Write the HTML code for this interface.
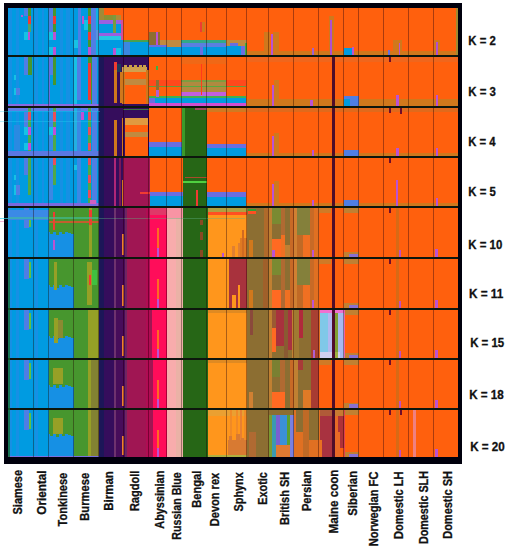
<!DOCTYPE html>
<html><head><meta charset="utf-8"><style>
html,body{margin:0;padding:0;background:#fff;}
svg{display:block;}
.k{font-family:"Liberation Sans",sans-serif;font-weight:bold;font-size:12.4px;fill:#111;stroke:#111;stroke-width:0.3px;}
.n{font-family:"Liberation Sans",sans-serif;font-weight:bold;font-size:12.3px;fill:#111;stroke:#111;stroke-width:0.3px;}
</style></head><body>
<svg width="511" height="550" viewBox="0 0 511 550" shape-rendering="crispEdges">
<defs><filter id="bl" x="-2%" y="-2%" width="104%" height="104%"><feGaussianBlur stdDeviation="0.4"/></filter></defs>
<rect width="511" height="550" fill="#fff"/>
<g filter="url(#bl)">
<rect x="4" y="3" width="458" height="461" fill="#050508"/>
<rect x="8.00" y="7.50" width="90.50" height="47.50" fill="#009be1"/>
<rect x="9.00" y="7.50" width="3.00" height="47.50" fill="#1590e4"/>
<rect x="16.00" y="7.50" width="3.00" height="47.50" fill="#1590e4"/>
<rect x="35.00" y="7.50" width="3.00" height="47.50" fill="#1590e4"/>
<rect x="42.00" y="7.50" width="2.00" height="47.50" fill="#1590e4"/>
<rect x="60.00" y="7.50" width="3.00" height="47.50" fill="#1590e4"/>
<rect x="66.00" y="7.50" width="4.00" height="47.50" fill="#1590e4"/>
<rect x="23.70" y="7.50" width="4.10" height="8.50" fill="#4f7ee4"/>
<rect x="27.80" y="7.50" width="3.20" height="8.50" fill="#46962d"/>
<rect x="27.80" y="16.00" width="3.20" height="8.00" fill="#f03a30"/>
<rect x="27.80" y="24.00" width="3.20" height="8.00" fill="#5aa060"/>
<rect x="23.70" y="32.00" width="3.80" height="8.00" fill="#14c2e4"/>
<rect x="27.50" y="32.00" width="2.80" height="8.00" fill="#bb52d2"/>
<rect x="21.00" y="15.00" width="2.00" height="2.00" fill="#bb52d2"/>
<rect x="48.70" y="7.50" width="3.80" height="24.50" fill="#4f7ee4"/>
<rect x="52.50" y="7.50" width="3.00" height="8.50" fill="#46962d"/>
<rect x="52.50" y="16.00" width="3.00" height="8.00" fill="#f03a30"/>
<rect x="52.50" y="24.00" width="3.00" height="8.00" fill="#46962d"/>
<rect x="52.50" y="32.00" width="3.00" height="8.00" fill="#bb52d2"/>
<rect x="48.70" y="32.00" width="3.80" height="8.00" fill="#14c2e4"/>
<rect x="48.70" y="47.00" width="3.80" height="8.00" fill="#14c2e4"/>
<rect x="52.50" y="47.00" width="3.00" height="8.00" fill="#bb52d2"/>
<rect x="74.30" y="40.00" width="3.40" height="8.00" fill="#14c2e4"/>
<rect x="77.70" y="7.50" width="3.30" height="47.50" fill="#4f7ee4"/>
<rect x="81.80" y="16.00" width="2.20" height="8.00" fill="#bb52d2"/>
<rect x="84.00" y="20.00" width="4.00" height="10.00" fill="#14c2e4"/>
<rect x="88.30" y="7.50" width="2.70" height="47.50" fill="#46962d"/>
<rect x="88.30" y="16.00" width="2.70" height="8.00" fill="#f03a30"/>
<rect x="88.30" y="32.00" width="2.70" height="8.00" fill="#f03a30"/>
<rect x="88.30" y="47.00" width="2.70" height="8.00" fill="#bb52d2"/>
<rect x="91.00" y="7.50" width="5.00" height="47.50" fill="#4f7ee4"/>
<rect x="96.00" y="30.00" width="2.50" height="10.00" fill="#bb52d2"/>
<rect x="96.00" y="7.50" width="2.50" height="47.50" fill="#14c2e4" fill-opacity="0.6"/>
<rect x="98.50" y="7.50" width="24.90" height="47.50" fill="#009be1"/>
<rect x="98.90" y="7.50" width="5.00" height="12.00" fill="#a08a38"/>
<rect x="103.90" y="7.50" width="17.10" height="7.90" fill="#ff6010"/>
<rect x="103.90" y="15.40" width="9.10" height="4.60" fill="#8a9035"/>
<rect x="113.00" y="15.40" width="8.00" height="4.60" fill="#b08a38"/>
<rect x="98.90" y="19.50" width="24.50" height="4.30" fill="#9a60e0"/>
<rect x="113.00" y="15.00" width="2.70" height="25.00" fill="#7a9a40"/>
<rect x="98.90" y="32.50" width="24.50" height="3.40" fill="#9a60e0"/>
<rect x="98.90" y="35.90" width="24.50" height="4.10" fill="#28c8e2"/>
<rect x="113.00" y="48.00" width="3.00" height="7.00" fill="#bb52d2"/>
<rect x="116.00" y="48.00" width="5.00" height="7.00" fill="#14c2e4"/>
<rect x="120.50" y="7.50" width="2.90" height="32.50" fill="#ff6010"/>
<rect x="121.00" y="20.00" width="1.50" height="20.00" fill="#d050a0"/>
<rect x="123.40" y="7.50" width="25.40" height="32.50" fill="#ff6010"/>
<rect x="123.40" y="40.00" width="25.40" height="2.00" fill="#48a050"/>
<rect x="123.40" y="42.00" width="25.40" height="13.00" fill="#009be1"/>
<rect x="123.40" y="42.00" width="6.60" height="13.00" fill="#3a88e0"/>
<rect x="148.80" y="7.50" width="17.80" height="32.10" fill="#ff6010"/>
<rect x="148.80" y="32.00" width="11.20" height="13.00" fill="#8c6e32"/>
<rect x="155.50" y="32.00" width="2.00" height="13.00" fill="#bb52d2"/>
<rect x="160.00" y="39.60" width="6.60" height="5.40" fill="#c08a40"/>
<rect x="148.80" y="45.00" width="17.80" height="2.00" fill="#6a6ee0"/>
<rect x="148.80" y="47.00" width="17.80" height="8.00" fill="#009be1"/>
<rect x="166.60" y="7.50" width="14.70" height="32.50" fill="#ff6010"/>
<rect x="166.60" y="40.00" width="14.70" height="7.00" fill="#c08a40"/>
<rect x="166.60" y="47.00" width="14.70" height="8.00" fill="#009be1"/>
<rect x="181.30" y="7.50" width="44.70" height="32.30" fill="#ff6010"/>
<rect x="181.30" y="39.80" width="44.70" height="3.20" fill="#30a888"/>
<rect x="181.30" y="43.00" width="44.70" height="4.00" fill="#5a80e0"/>
<rect x="181.30" y="47.00" width="44.70" height="8.00" fill="#009be1"/>
<rect x="200.00" y="22.00" width="1.50" height="10.00" fill="#f03a30"/>
<rect x="202.00" y="22.00" width="3.00" height="10.00" fill="#d0781c"/>
<rect x="200.00" y="47.00" width="3.00" height="8.00" fill="#6a6ee0"/>
<rect x="226.00" y="7.50" width="20.50" height="32.30" fill="#ff6010"/>
<rect x="226.00" y="39.80" width="20.50" height="6.20" fill="#c08a40"/>
<rect x="230.00" y="43.00" width="8.00" height="3.00" fill="#6a6ee0"/>
<rect x="226.00" y="46.00" width="15.00" height="9.00" fill="#009be1"/>
<rect x="241.00" y="46.00" width="4.00" height="9.00" fill="#6a6ee0"/>
<rect x="245.00" y="43.00" width="1.50" height="12.00" fill="#40b040"/>
<rect x="246.50" y="7.50" width="211.00" height="47.50" fill="#ff6010"/>
<rect x="246.50" y="50.50" width="211.00" height="4.50" fill="#d0781c"/>
<rect x="265.00" y="32.00" width="4.00" height="23.00" fill="#d0781c"/>
<rect x="264.00" y="32.00" width="6.00" height="23.00" fill="#d0781c"/>
<rect x="270.50" y="34.00" width="2.50" height="21.00" fill="#bb52d2"/>
<rect x="273.00" y="32.00" width="6.00" height="23.00" fill="#d0781c"/>
<rect x="328.80" y="15.70" width="5.10" height="39.30" fill="#d0781c"/>
<rect x="330.00" y="20.00" width="2.00" height="35.00" fill="#b050d0"/>
<rect x="343.90" y="48.00" width="8.10" height="7.00" fill="#009be1"/>
<rect x="352.00" y="47.00" width="2.00" height="8.00" fill="#bb52d2"/>
<rect x="312.00" y="48.00" width="2.00" height="7.00" fill="#a060d0"/>
<rect x="392.50" y="40.00" width="9.40" height="15.00" fill="#d0781c"/>
<rect x="398.60" y="43.00" width="1.70" height="12.00" fill="#bb52d2"/>
<rect x="388.00" y="50.00" width="2.00" height="5.00" fill="#6a6ee0"/>
<rect x="433.90" y="40.00" width="5.60" height="15.00" fill="#d0781c"/>
<rect x="436.00" y="42.00" width="2.00" height="13.00" fill="#b050d0"/>
<rect x="455.50" y="7.50" width="2.00" height="47.50" fill="#a08a30"/>
<rect x="8.00" y="57.00" width="90.50" height="48.60" fill="#009be1"/>
<rect x="9.00" y="57.00" width="3.00" height="48.60" fill="#1590e4"/>
<rect x="16.00" y="57.00" width="3.00" height="48.60" fill="#1590e4"/>
<rect x="35.00" y="57.00" width="3.00" height="48.60" fill="#1590e4"/>
<rect x="42.00" y="57.00" width="2.00" height="48.60" fill="#1590e4"/>
<rect x="60.00" y="57.00" width="3.00" height="48.60" fill="#1590e4"/>
<rect x="66.00" y="57.00" width="4.00" height="48.60" fill="#1590e4"/>
<rect x="24.00" y="57.00" width="4.30" height="18.00" fill="#4f7ee4"/>
<rect x="28.30" y="57.00" width="3.20" height="18.00" fill="#46962d"/>
<rect x="14.00" y="75.00" width="2.00" height="5.00" fill="#14c2e4"/>
<rect x="14.00" y="88.00" width="6.00" height="7.00" fill="#4f7ee4"/>
<rect x="14.00" y="88.00" width="2.00" height="7.00" fill="#14c2e4"/>
<rect x="48.60" y="57.00" width="1.40" height="48.60" fill="#6a6ee0"/>
<rect x="50.00" y="57.00" width="3.40" height="18.00" fill="#4f7ee4"/>
<rect x="53.40" y="57.00" width="2.60" height="28.00" fill="#46962d"/>
<rect x="74.00" y="57.00" width="3.00" height="48.60" fill="#14c2e4"/>
<rect x="77.00" y="57.00" width="4.00" height="43.00" fill="#4f7ee4"/>
<rect x="88.00" y="63.00" width="3.00" height="37.00" fill="#f03a30"/>
<rect x="88.00" y="57.00" width="3.00" height="6.00" fill="#46962d"/>
<rect x="91.00" y="57.00" width="1.00" height="48.60" fill="#46962d"/>
<rect x="92.00" y="57.00" width="5.00" height="48.60" fill="#4f7ee4"/>
<rect x="8.00" y="103.50" width="90.50" height="2.10" fill="#8a6ae0"/>
<rect x="98.50" y="57.00" width="5.30" height="48.60" fill="#1a1958"/>
<rect x="103.80" y="57.00" width="19.60" height="48.60" fill="#340a5c"/>
<rect x="113.80" y="62.00" width="2.90" height="8.00" fill="#f03a30"/>
<rect x="113.80" y="70.00" width="2.90" height="33.00" fill="#d0781c"/>
<rect x="120.00" y="72.00" width="2.50" height="31.00" fill="#d0781c"/>
<rect x="116.70" y="64.00" width="4.30" height="8.00" fill="#1a3a5a"/>
<rect x="123.40" y="57.00" width="25.40" height="48.60" fill="#340a5c"/>
<rect x="122.00" y="67.00" width="24.50" height="5.00" fill="#d0a050"/>
<rect x="122.00" y="72.00" width="24.50" height="7.00" fill="#ff6010"/>
<rect x="122.00" y="79.00" width="24.50" height="6.00" fill="#c08a40"/>
<rect x="122.00" y="85.00" width="24.50" height="18.50" fill="#ff6010"/>
<rect x="124.00" y="65.00" width="2.50" height="2.50" fill="#c8a048"/>
<rect x="129.00" y="65.00" width="2.50" height="2.50" fill="#c8a048"/>
<rect x="134.00" y="65.00" width="2.50" height="2.50" fill="#c8a048"/>
<rect x="139.00" y="65.00" width="2.50" height="2.50" fill="#c8a048"/>
<rect x="143.00" y="65.00" width="2.50" height="2.50" fill="#c8a048"/>
<rect x="122.00" y="72.00" width="2.50" height="31.50" fill="#d0781c"/>
<rect x="146.00" y="70.00" width="2.80" height="33.50" fill="#d0781c"/>
<rect x="148.80" y="57.00" width="97.00" height="22.80" fill="#ff6010"/>
<rect x="148.80" y="79.80" width="32.50" height="7.20" fill="#ff4a1a"/>
<rect x="148.80" y="87.00" width="32.50" height="9.00" fill="#ff6010"/>
<rect x="226.30" y="79.80" width="19.50" height="7.20" fill="#ff4a1a"/>
<rect x="226.30" y="87.00" width="19.50" height="9.00" fill="#ff6010"/>
<rect x="181.30" y="79.80" width="45.00" height="12.20" fill="#b08a40"/>
<rect x="181.30" y="92.00" width="45.00" height="4.00" fill="#c060e0"/>
<rect x="148.80" y="86.30" width="97.00" height="1.00" fill="#40b040" fill-opacity="0.8"/>
<rect x="181.30" y="80.00" width="45.00" height="2.00" fill="#70a040" fill-opacity="0.8"/>
<rect x="148.80" y="96.00" width="97.00" height="1.50" fill="#40b050"/>
<rect x="148.80" y="97.50" width="97.00" height="5.70" fill="#009be1"/>
<rect x="148.80" y="97.50" width="6.20" height="5.70" fill="#6a6ee0"/>
<rect x="148.80" y="103.20" width="97.00" height="2.40" fill="#d050d0"/>
<rect x="156.30" y="80.00" width="3.10" height="17.00" fill="#8c6e32"/>
<rect x="156.30" y="90.00" width="3.10" height="7.00" fill="#b060d0"/>
<rect x="156.00" y="66.00" width="2.00" height="4.00" fill="#40b040"/>
<rect x="196.00" y="57.00" width="2.50" height="5.00" fill="#6a0a2a"/>
<rect x="200.60" y="57.00" width="1.40" height="38.00" fill="#ff3a1a"/>
<rect x="181.30" y="57.00" width="45.00" height="7.00" fill="#f06818"/>
<rect x="245.80" y="57.00" width="211.70" height="48.60" fill="#ff6010"/>
<rect x="245.80" y="57.00" width="211.70" height="5.00" fill="#f0661a"/>
<rect x="245.80" y="98.50" width="211.70" height="7.10" fill="#d0781c"/>
<rect x="271.50" y="84.50" width="2.30" height="21.10" fill="#bb52d2"/>
<rect x="273.80" y="80.00" width="5.20" height="25.60" fill="#d0781c"/>
<rect x="310.00" y="100.00" width="3.00" height="5.60" fill="#bb52d2"/>
<rect x="343.50" y="96.00" width="15.10" height="9.60" fill="#4f7ee4"/>
<rect x="343.50" y="99.00" width="6.50" height="6.60" fill="#009be1"/>
<rect x="396.00" y="95.00" width="3.00" height="10.60" fill="#bb52d2"/>
<rect x="436.00" y="95.00" width="2.00" height="10.60" fill="#bb52d2"/>
<rect x="8.00" y="107.60" width="90.50" height="48.60" fill="#009be1"/>
<rect x="9.00" y="107.60" width="3.00" height="48.60" fill="#1590e4"/>
<rect x="16.00" y="107.60" width="3.00" height="48.60" fill="#1590e4"/>
<rect x="35.00" y="107.60" width="3.00" height="48.60" fill="#1590e4"/>
<rect x="42.00" y="107.60" width="2.00" height="48.60" fill="#1590e4"/>
<rect x="60.00" y="107.60" width="3.00" height="48.60" fill="#1590e4"/>
<rect x="66.00" y="107.60" width="4.00" height="48.60" fill="#1590e4"/>
<rect x="8.00" y="107.60" width="90.50" height="3.40" fill="#5a80e6"/>
<rect x="8.00" y="107.60" width="90.50" height="1.40" fill="#7a70e0" fill-opacity="0.6"/>
<rect x="24.00" y="112.00" width="4.30" height="16.00" fill="#4f7ee4"/>
<rect x="28.30" y="107.60" width="2.50" height="48.60" fill="#50a848"/>
<rect x="28.30" y="112.00" width="2.50" height="8.00" fill="#e8505a"/>
<rect x="28.30" y="127.00" width="2.50" height="8.00" fill="#c050d8"/>
<rect x="24.00" y="127.00" width="4.30" height="8.00" fill="#14c2e4"/>
<rect x="24.00" y="143.00" width="4.30" height="7.00" fill="#14c2e4"/>
<rect x="28.30" y="143.00" width="2.50" height="7.00" fill="#c050d8"/>
<rect x="14.00" y="125.00" width="6.00" height="25.00" fill="#2a8ae2"/>
<rect x="48.70" y="107.60" width="3.80" height="42.40" fill="#3a88e4"/>
<rect x="53.30" y="107.60" width="2.50" height="48.60" fill="#50a848"/>
<rect x="53.30" y="112.00" width="2.50" height="10.00" fill="#e8505a"/>
<rect x="53.30" y="127.00" width="2.50" height="8.00" fill="#c050d8"/>
<rect x="48.70" y="127.00" width="3.80" height="8.00" fill="#14c2e4"/>
<rect x="74.00" y="107.60" width="3.00" height="48.60" fill="#20b0e2"/>
<rect x="77.00" y="107.60" width="4.00" height="48.60" fill="#3a88e4"/>
<rect x="81.00" y="112.00" width="3.00" height="8.00" fill="#c050d8"/>
<rect x="88.30" y="107.60" width="2.50" height="48.60" fill="#50a848"/>
<rect x="88.30" y="112.00" width="2.50" height="8.00" fill="#e8505a"/>
<rect x="88.30" y="127.00" width="2.50" height="8.00" fill="#e8505a"/>
<rect x="88.30" y="143.00" width="2.50" height="7.00" fill="#e8505a"/>
<rect x="92.00" y="107.60" width="5.00" height="48.60" fill="#4f7ee4"/>
<rect x="8.00" y="150.50" width="90.50" height="5.70" fill="#5a78e2"/>
<rect x="98.50" y="107.60" width="5.30" height="48.60" fill="#1a1958"/>
<rect x="103.80" y="107.60" width="19.60" height="48.60" fill="#340a5c"/>
<rect x="113.80" y="120.00" width="3.00" height="36.20" fill="#d0781c"/>
<rect x="122.30" y="118.00" width="1.70" height="38.20" fill="#d0781c"/>
<rect x="123.40" y="107.60" width="25.40" height="48.60" fill="#340a5c"/>
<rect x="125.00" y="117.60" width="23.00" height="7.40" fill="#e09a40"/>
<rect x="125.00" y="125.00" width="23.00" height="31.20" fill="#ff6010"/>
<rect x="125.00" y="132.00" width="23.00" height="5.00" fill="#c08a40"/>
<rect x="123.40" y="108.50" width="83.60" height="1.50" fill="#40a040" fill-opacity="0.7"/>
<rect x="148.80" y="107.60" width="33.20" height="34.40" fill="#ff6010"/>
<rect x="148.80" y="142.00" width="33.20" height="5.00" fill="#6a6ee0"/>
<rect x="148.80" y="147.00" width="33.20" height="9.20" fill="#009be1"/>
<rect x="182.00" y="107.60" width="25.00" height="48.60" fill="#286619"/>
<rect x="182.00" y="107.60" width="3.00" height="48.60" fill="#3a9a2a"/>
<rect x="195.00" y="107.60" width="12.00" height="2.40" fill="#c04070" fill-opacity="0.8"/>
<rect x="207.00" y="107.60" width="39.00" height="35.90" fill="#ff6010"/>
<rect x="207.00" y="107.60" width="39.00" height="4.40" fill="#d07a20"/>
<rect x="207.00" y="143.50" width="39.00" height="4.50" fill="#6a6ee0"/>
<rect x="207.00" y="148.00" width="39.00" height="8.20" fill="#009be1"/>
<rect x="246.00" y="107.60" width="211.50" height="48.60" fill="#ff6010"/>
<rect x="246.00" y="107.60" width="211.50" height="4.40" fill="#e06a1c"/>
<rect x="246.00" y="153.00" width="211.50" height="3.20" fill="#d0781c"/>
<rect x="271.90" y="136.00" width="2.10" height="20.20" fill="#bb52d2"/>
<rect x="274.00" y="133.00" width="5.00" height="23.20" fill="#d0781c"/>
<rect x="312.00" y="150.00" width="2.00" height="6.20" fill="#bb52d2"/>
<rect x="343.50" y="150.00" width="15.10" height="6.20" fill="#4f7ee4"/>
<rect x="396.00" y="148.00" width="3.00" height="8.20" fill="#bb52d2"/>
<rect x="436.00" y="148.00" width="2.00" height="8.20" fill="#bb52d2"/>
<rect x="8.00" y="158.00" width="90.50" height="48.40" fill="#009be1"/>
<rect x="9.00" y="158.00" width="3.00" height="48.40" fill="#1590e4"/>
<rect x="16.00" y="158.00" width="3.00" height="48.40" fill="#1590e4"/>
<rect x="35.00" y="158.00" width="3.00" height="48.40" fill="#1590e4"/>
<rect x="42.00" y="158.00" width="2.00" height="48.40" fill="#1590e4"/>
<rect x="60.00" y="158.00" width="3.00" height="48.40" fill="#1590e4"/>
<rect x="66.00" y="158.00" width="4.00" height="48.40" fill="#1590e4"/>
<rect x="24.00" y="158.00" width="4.30" height="17.00" fill="#4f7ee4"/>
<rect x="28.30" y="158.00" width="2.50" height="37.00" fill="#50a848"/>
<rect x="14.00" y="175.00" width="2.00" height="5.00" fill="#14c2e4"/>
<rect x="14.00" y="185.00" width="2.00" height="10.00" fill="#14c2e4"/>
<rect x="16.00" y="185.00" width="4.00" height="10.00" fill="#4f7ee4"/>
<rect x="48.70" y="158.00" width="3.80" height="42.00" fill="#3a88e4"/>
<rect x="53.30" y="158.00" width="2.50" height="27.00" fill="#50a848"/>
<rect x="53.30" y="158.00" width="2.50" height="7.00" fill="#e8505a"/>
<rect x="74.00" y="165.00" width="3.00" height="5.00" fill="#14c2e4"/>
<rect x="77.00" y="158.00" width="4.00" height="48.40" fill="#3a88e4"/>
<rect x="88.30" y="158.00" width="2.50" height="48.40" fill="#50a848"/>
<rect x="88.30" y="158.00" width="2.50" height="7.00" fill="#e8505a"/>
<rect x="88.30" y="175.00" width="2.50" height="8.00" fill="#e8505a"/>
<rect x="88.30" y="190.00" width="2.50" height="8.00" fill="#e8505a"/>
<rect x="92.00" y="158.00" width="5.00" height="48.40" fill="#4f7ee4"/>
<rect x="8.00" y="203.30" width="90.50" height="3.10" fill="#7a6ae0"/>
<rect x="90.00" y="200.00" width="6.00" height="4.00" fill="#d060c0"/>
<rect x="98.50" y="158.00" width="5.30" height="48.40" fill="#1a1958"/>
<rect x="103.80" y="158.00" width="19.20" height="48.40" fill="#340a5c"/>
<rect x="113.50" y="158.00" width="2.50" height="48.40" fill="#b02878"/>
<rect x="119.00" y="158.00" width="2.00" height="48.40" fill="#7a1858"/>
<rect x="121.50" y="180.00" width="2.00" height="26.40" fill="#d0781c"/>
<rect x="123.00" y="158.00" width="26.50" height="48.40" fill="#a01452"/>
<rect x="140.00" y="192.00" width="9.50" height="2.00" fill="#f03a30"/>
<rect x="149.50" y="158.00" width="33.00" height="34.00" fill="#ff6010"/>
<rect x="149.50" y="192.00" width="33.00" height="4.00" fill="#6a6ee0"/>
<rect x="149.50" y="196.00" width="33.00" height="10.40" fill="#009be1"/>
<rect x="182.50" y="158.00" width="24.50" height="48.40" fill="#286619"/>
<rect x="182.50" y="181.00" width="57.50" height="1.50" fill="#50d040"/>
<rect x="185.00" y="176.50" width="55.00" height="1.00" fill="#e04030" fill-opacity="0.7"/>
<rect x="196.00" y="190.00" width="2.00" height="16.40" fill="#f03a30"/>
<rect x="207.00" y="158.00" width="39.00" height="34.00" fill="#ff6010"/>
<rect x="207.00" y="192.00" width="39.00" height="5.00" fill="#6a6ee0"/>
<rect x="207.00" y="197.00" width="39.00" height="9.40" fill="#009be1"/>
<rect x="246.00" y="158.00" width="211.50" height="48.40" fill="#ff6010"/>
<rect x="246.00" y="203.00" width="211.50" height="3.40" fill="#d0781c"/>
<rect x="271.90" y="184.00" width="2.10" height="22.40" fill="#bb52d2"/>
<rect x="274.00" y="181.00" width="5.00" height="25.40" fill="#d0781c"/>
<rect x="312.00" y="200.00" width="2.00" height="6.40" fill="#bb52d2"/>
<rect x="343.50" y="200.00" width="15.10" height="6.40" fill="#4f7ee4"/>
<rect x="396.00" y="180.00" width="2.00" height="26.40" fill="#bb52d2"/>
<rect x="436.00" y="198.00" width="2.00" height="8.40" fill="#bb52d2"/>
<rect x="8.00" y="208.10" width="41.00" height="48.90" fill="#009be1"/>
<rect x="9.00" y="208.10" width="3.00" height="48.90" fill="#1590e4"/>
<rect x="16.00" y="208.10" width="3.00" height="48.90" fill="#1590e4"/>
<rect x="35.00" y="208.10" width="3.00" height="48.90" fill="#1590e4"/>
<rect x="23.60" y="208.10" width="5.40" height="20.00" fill="#4f7ee4"/>
<rect x="29.00" y="211.10" width="2.00" height="16.00" fill="#60c040"/>
<rect x="49.00" y="208.10" width="24.80" height="48.90" fill="#1590e4"/>
<rect x="49.00" y="208.10" width="24.80" height="23.90" fill="#46962d"/>
<rect x="50.00" y="229.00" width="3.00" height="5.00" fill="#46962d"/>
<rect x="53.00" y="229.00" width="3.00" height="0.00" fill="#1590e4"/>
<rect x="56.00" y="229.00" width="3.00" height="6.00" fill="#46962d"/>
<rect x="59.00" y="229.00" width="3.00" height="0.00" fill="#1590e4"/>
<rect x="62.00" y="229.00" width="3.00" height="5.00" fill="#46962d"/>
<rect x="65.00" y="229.00" width="3.00" height="0.00" fill="#1590e4"/>
<rect x="68.00" y="229.00" width="3.00" height="4.00" fill="#46962d"/>
<rect x="71.00" y="229.00" width="3.00" height="5.00" fill="#46962d"/>
<rect x="73.80" y="208.10" width="25.00" height="48.90" fill="#46962d"/>
<rect x="98.80" y="208.10" width="4.70" height="48.90" fill="#1a1958"/>
<rect x="103.50" y="208.10" width="10.50" height="48.90" fill="#340a5c"/>
<rect x="114.00" y="208.10" width="2.00" height="48.90" fill="#6e326e"/>
<rect x="116.00" y="208.10" width="8.50" height="48.90" fill="#460a5a"/>
<rect x="122.30" y="234.10" width="2.00" height="20.90" fill="#f08030"/>
<rect x="124.50" y="208.10" width="2.50" height="48.90" fill="#6e2860"/>
<rect x="127.00" y="208.10" width="23.00" height="48.90" fill="#a01452"/>
<rect x="146.00" y="208.10" width="4.00" height="48.90" fill="#b00a52"/>
<rect x="150.00" y="208.10" width="17.30" height="48.90" fill="#ff0a5a"/>
<rect x="157.00" y="228.10" width="2.00" height="23.90" fill="#ff6a20"/>
<rect x="157.00" y="248.00" width="2.00" height="9.00" fill="#bb52d2"/>
<rect x="167.30" y="208.10" width="15.20" height="48.90" fill="#f8acac"/>
<rect x="176.00" y="208.10" width="6.50" height="48.90" fill="#eab2a6"/>
<rect x="182.50" y="208.10" width="25.00" height="48.90" fill="#286619"/>
<rect x="207.50" y="208.10" width="39.50" height="48.90" fill="#ff961e"/>
<rect x="247.00" y="208.10" width="22.00" height="48.90" fill="#8c6e32"/>
<rect x="269.00" y="208.10" width="25.00" height="48.90" fill="#d87a22"/>
<rect x="294.00" y="208.10" width="24.60" height="48.90" fill="#d87a22"/>
<rect x="318.60" y="208.10" width="138.90" height="48.90" fill="#ff6010"/>
<rect x="395.50" y="208.10" width="3.50" height="48.90" fill="#d86a18"/>
<rect x="343.50" y="252.00" width="15.10" height="5.00" fill="#c08030"/>
<rect x="349.00" y="253.50" width="9.00" height="3.50" fill="#8a70d0"/>
<rect x="343.50" y="208.10" width="15.10" height="5.00" fill="#c08030"/>
<rect x="399.00" y="250.00" width="2.00" height="7.00" fill="#c050c0"/>
<rect x="435.00" y="249.00" width="3.00" height="8.00" fill="#bb52d2"/>
<rect x="318.60" y="208.10" width="12.40" height="5.00" fill="#d07a28"/>
<rect x="8.00" y="259.10" width="41.00" height="48.90" fill="#009be1"/>
<rect x="9.00" y="259.10" width="3.00" height="48.90" fill="#1590e4"/>
<rect x="16.00" y="259.10" width="3.00" height="48.90" fill="#1590e4"/>
<rect x="35.00" y="259.10" width="3.00" height="48.90" fill="#1590e4"/>
<rect x="23.60" y="259.10" width="5.40" height="20.00" fill="#4f7ee4"/>
<rect x="29.00" y="262.10" width="2.00" height="16.00" fill="#60c040"/>
<rect x="49.00" y="259.10" width="24.80" height="48.90" fill="#1590e4"/>
<rect x="49.00" y="259.10" width="24.80" height="25.90" fill="#46962d"/>
<rect x="50.00" y="282.00" width="3.00" height="5.00" fill="#46962d"/>
<rect x="53.00" y="282.00" width="3.00" height="0.00" fill="#1590e4"/>
<rect x="56.00" y="282.00" width="3.00" height="6.00" fill="#46962d"/>
<rect x="59.00" y="282.00" width="3.00" height="0.00" fill="#1590e4"/>
<rect x="62.00" y="282.00" width="3.00" height="5.00" fill="#46962d"/>
<rect x="65.00" y="282.00" width="3.00" height="0.00" fill="#1590e4"/>
<rect x="68.00" y="282.00" width="3.00" height="4.00" fill="#46962d"/>
<rect x="71.00" y="282.00" width="3.00" height="5.00" fill="#46962d"/>
<rect x="73.80" y="259.10" width="25.00" height="48.90" fill="#46962d"/>
<rect x="98.80" y="259.10" width="4.70" height="48.90" fill="#1a1958"/>
<rect x="103.50" y="259.10" width="10.50" height="48.90" fill="#340a5c"/>
<rect x="114.00" y="259.10" width="2.00" height="48.90" fill="#6e326e"/>
<rect x="116.00" y="259.10" width="8.50" height="48.90" fill="#460a5a"/>
<rect x="122.30" y="285.10" width="2.00" height="20.90" fill="#f08030"/>
<rect x="124.50" y="259.10" width="2.50" height="48.90" fill="#6e2860"/>
<rect x="127.00" y="259.10" width="23.00" height="48.90" fill="#a01452"/>
<rect x="146.00" y="259.10" width="4.00" height="48.90" fill="#b00a52"/>
<rect x="150.00" y="259.10" width="17.30" height="48.90" fill="#ff0a5a"/>
<rect x="157.00" y="279.10" width="2.00" height="23.90" fill="#ff6a20"/>
<rect x="157.00" y="299.00" width="2.00" height="9.00" fill="#bb52d2"/>
<rect x="167.30" y="259.10" width="15.20" height="48.90" fill="#f8acac"/>
<rect x="176.00" y="259.10" width="6.50" height="48.90" fill="#eab2a6"/>
<rect x="182.50" y="259.10" width="25.00" height="48.90" fill="#286619"/>
<rect x="207.50" y="259.10" width="39.50" height="48.90" fill="#ff961e"/>
<rect x="247.00" y="259.10" width="22.00" height="48.90" fill="#8c6e32"/>
<rect x="269.00" y="259.10" width="25.00" height="48.90" fill="#d87a22"/>
<rect x="294.00" y="259.10" width="24.60" height="48.90" fill="#d87a22"/>
<rect x="318.60" y="259.10" width="138.90" height="48.90" fill="#ff6010"/>
<rect x="395.50" y="259.10" width="3.50" height="48.90" fill="#d86a18"/>
<rect x="343.50" y="303.00" width="15.10" height="5.00" fill="#c08030"/>
<rect x="349.00" y="304.50" width="9.00" height="3.50" fill="#8a70d0"/>
<rect x="343.50" y="259.10" width="15.10" height="5.00" fill="#c08030"/>
<rect x="399.00" y="301.00" width="2.00" height="7.00" fill="#c050c0"/>
<rect x="435.00" y="300.00" width="3.00" height="8.00" fill="#bb52d2"/>
<rect x="318.60" y="259.10" width="12.40" height="5.00" fill="#d07a28"/>
<rect x="8.00" y="309.90" width="41.00" height="48.10" fill="#009be1"/>
<rect x="9.00" y="309.90" width="3.00" height="48.10" fill="#1590e4"/>
<rect x="16.00" y="309.90" width="3.00" height="48.10" fill="#1590e4"/>
<rect x="35.00" y="309.90" width="3.00" height="48.10" fill="#1590e4"/>
<rect x="23.60" y="309.90" width="5.40" height="20.00" fill="#4f7ee4"/>
<rect x="29.00" y="312.90" width="2.00" height="16.00" fill="#60c040"/>
<rect x="49.00" y="309.90" width="24.80" height="48.10" fill="#1590e4"/>
<rect x="49.00" y="309.90" width="24.80" height="25.60" fill="#46962d"/>
<rect x="50.00" y="332.50" width="3.00" height="5.00" fill="#46962d"/>
<rect x="53.00" y="332.50" width="3.00" height="0.00" fill="#1590e4"/>
<rect x="56.00" y="332.50" width="3.00" height="6.00" fill="#46962d"/>
<rect x="59.00" y="332.50" width="3.00" height="0.00" fill="#1590e4"/>
<rect x="62.00" y="332.50" width="3.00" height="5.00" fill="#46962d"/>
<rect x="65.00" y="332.50" width="3.00" height="0.00" fill="#1590e4"/>
<rect x="68.00" y="332.50" width="3.00" height="4.00" fill="#46962d"/>
<rect x="71.00" y="332.50" width="3.00" height="5.00" fill="#46962d"/>
<rect x="73.80" y="309.90" width="25.00" height="48.10" fill="#46962d"/>
<rect x="98.80" y="309.90" width="4.70" height="48.10" fill="#1a1958"/>
<rect x="103.50" y="309.90" width="10.50" height="48.10" fill="#340a5c"/>
<rect x="114.00" y="309.90" width="2.00" height="48.10" fill="#6e326e"/>
<rect x="116.00" y="309.90" width="8.50" height="48.10" fill="#460a5a"/>
<rect x="122.30" y="335.90" width="2.00" height="20.10" fill="#f08030"/>
<rect x="124.50" y="309.90" width="2.50" height="48.10" fill="#6e2860"/>
<rect x="127.00" y="309.90" width="23.00" height="48.10" fill="#a01452"/>
<rect x="146.00" y="309.90" width="4.00" height="48.10" fill="#b00a52"/>
<rect x="150.00" y="309.90" width="17.30" height="48.10" fill="#ff0a5a"/>
<rect x="157.00" y="329.90" width="2.00" height="23.10" fill="#ff6a20"/>
<rect x="157.00" y="349.00" width="2.00" height="9.00" fill="#bb52d2"/>
<rect x="167.30" y="309.90" width="15.20" height="48.10" fill="#f8acac"/>
<rect x="176.00" y="309.90" width="6.50" height="48.10" fill="#eab2a6"/>
<rect x="182.50" y="309.90" width="25.00" height="48.10" fill="#286619"/>
<rect x="207.50" y="309.90" width="39.50" height="48.10" fill="#ff961e"/>
<rect x="247.00" y="309.90" width="22.00" height="48.10" fill="#8c6e32"/>
<rect x="269.00" y="309.90" width="25.00" height="48.10" fill="#d87a22"/>
<rect x="294.00" y="309.90" width="24.60" height="48.10" fill="#d87a22"/>
<rect x="318.60" y="309.90" width="138.90" height="48.10" fill="#ff6010"/>
<rect x="395.50" y="309.90" width="3.50" height="48.10" fill="#d86a18"/>
<rect x="343.50" y="353.00" width="15.10" height="5.00" fill="#c08030"/>
<rect x="349.00" y="354.50" width="9.00" height="3.50" fill="#8a70d0"/>
<rect x="343.50" y="309.90" width="15.10" height="5.00" fill="#c08030"/>
<rect x="399.00" y="351.00" width="2.00" height="7.00" fill="#c050c0"/>
<rect x="435.00" y="350.00" width="3.00" height="8.00" fill="#bb52d2"/>
<rect x="8.00" y="359.90" width="41.00" height="48.00" fill="#009be1"/>
<rect x="9.00" y="359.90" width="3.00" height="48.00" fill="#1590e4"/>
<rect x="16.00" y="359.90" width="3.00" height="48.00" fill="#1590e4"/>
<rect x="35.00" y="359.90" width="3.00" height="48.00" fill="#1590e4"/>
<rect x="23.60" y="359.90" width="5.40" height="20.00" fill="#4f7ee4"/>
<rect x="29.00" y="362.90" width="2.00" height="16.00" fill="#60c040"/>
<rect x="49.00" y="359.90" width="24.80" height="48.00" fill="#1590e4"/>
<rect x="49.00" y="359.90" width="24.80" height="24.60" fill="#46962d"/>
<rect x="50.00" y="381.50" width="3.00" height="5.00" fill="#46962d"/>
<rect x="53.00" y="381.50" width="3.00" height="0.00" fill="#1590e4"/>
<rect x="56.00" y="381.50" width="3.00" height="6.00" fill="#46962d"/>
<rect x="59.00" y="381.50" width="3.00" height="0.00" fill="#1590e4"/>
<rect x="62.00" y="381.50" width="3.00" height="5.00" fill="#46962d"/>
<rect x="65.00" y="381.50" width="3.00" height="0.00" fill="#1590e4"/>
<rect x="68.00" y="381.50" width="3.00" height="4.00" fill="#46962d"/>
<rect x="71.00" y="381.50" width="3.00" height="5.00" fill="#46962d"/>
<rect x="73.80" y="359.90" width="25.00" height="48.00" fill="#46962d"/>
<rect x="98.80" y="359.90" width="4.70" height="48.00" fill="#1a1958"/>
<rect x="103.50" y="359.90" width="10.50" height="48.00" fill="#340a5c"/>
<rect x="114.00" y="359.90" width="2.00" height="48.00" fill="#6e326e"/>
<rect x="116.00" y="359.90" width="8.50" height="48.00" fill="#460a5a"/>
<rect x="122.30" y="385.90" width="2.00" height="20.00" fill="#f08030"/>
<rect x="124.50" y="359.90" width="2.50" height="48.00" fill="#6e2860"/>
<rect x="127.00" y="359.90" width="23.00" height="48.00" fill="#a01452"/>
<rect x="146.00" y="359.90" width="4.00" height="48.00" fill="#b00a52"/>
<rect x="150.00" y="359.90" width="17.30" height="48.00" fill="#ff0a5a"/>
<rect x="157.00" y="379.90" width="2.00" height="23.00" fill="#ff6a20"/>
<rect x="157.00" y="398.90" width="2.00" height="9.00" fill="#bb52d2"/>
<rect x="167.30" y="359.90" width="15.20" height="48.00" fill="#f8acac"/>
<rect x="176.00" y="359.90" width="6.50" height="48.00" fill="#eab2a6"/>
<rect x="182.50" y="359.90" width="25.00" height="48.00" fill="#286619"/>
<rect x="207.50" y="359.90" width="39.50" height="48.00" fill="#ff961e"/>
<rect x="247.00" y="359.90" width="22.00" height="48.00" fill="#8c6e32"/>
<rect x="269.00" y="359.90" width="25.00" height="48.00" fill="#d87a22"/>
<rect x="294.00" y="359.90" width="24.60" height="48.00" fill="#d87a22"/>
<rect x="318.60" y="359.90" width="138.90" height="48.00" fill="#ff6010"/>
<rect x="395.50" y="359.90" width="3.50" height="48.00" fill="#d86a18"/>
<rect x="343.50" y="402.90" width="15.10" height="5.00" fill="#c08030"/>
<rect x="349.00" y="404.40" width="9.00" height="3.50" fill="#8a70d0"/>
<rect x="343.50" y="359.90" width="15.10" height="5.00" fill="#c08030"/>
<rect x="399.00" y="400.90" width="2.00" height="7.00" fill="#c050c0"/>
<rect x="435.00" y="399.90" width="3.00" height="8.00" fill="#bb52d2"/>
<rect x="318.60" y="359.90" width="12.40" height="5.00" fill="#d07a28"/>
<rect x="8.00" y="409.90" width="41.00" height="47.10" fill="#009be1"/>
<rect x="9.00" y="409.90" width="3.00" height="47.10" fill="#1590e4"/>
<rect x="16.00" y="409.90" width="3.00" height="47.10" fill="#1590e4"/>
<rect x="35.00" y="409.90" width="3.00" height="47.10" fill="#1590e4"/>
<rect x="23.60" y="409.90" width="5.40" height="20.00" fill="#4f7ee4"/>
<rect x="29.00" y="412.90" width="2.00" height="16.00" fill="#60c040"/>
<rect x="49.00" y="409.90" width="24.80" height="47.10" fill="#1590e4"/>
<rect x="49.00" y="409.90" width="24.80" height="24.10" fill="#46962d"/>
<rect x="50.00" y="431.00" width="3.00" height="5.00" fill="#46962d"/>
<rect x="53.00" y="431.00" width="3.00" height="0.00" fill="#1590e4"/>
<rect x="56.00" y="431.00" width="3.00" height="6.00" fill="#46962d"/>
<rect x="59.00" y="431.00" width="3.00" height="0.00" fill="#1590e4"/>
<rect x="62.00" y="431.00" width="3.00" height="5.00" fill="#46962d"/>
<rect x="65.00" y="431.00" width="3.00" height="0.00" fill="#1590e4"/>
<rect x="68.00" y="431.00" width="3.00" height="4.00" fill="#46962d"/>
<rect x="71.00" y="431.00" width="3.00" height="5.00" fill="#46962d"/>
<rect x="73.80" y="409.90" width="25.00" height="47.10" fill="#46962d"/>
<rect x="98.80" y="409.90" width="4.70" height="47.10" fill="#1a1958"/>
<rect x="103.50" y="409.90" width="10.50" height="47.10" fill="#340a5c"/>
<rect x="114.00" y="409.90" width="2.00" height="47.10" fill="#6e326e"/>
<rect x="116.00" y="409.90" width="8.50" height="47.10" fill="#460a5a"/>
<rect x="122.30" y="435.90" width="2.00" height="19.10" fill="#f08030"/>
<rect x="124.50" y="409.90" width="2.50" height="47.10" fill="#6e2860"/>
<rect x="127.00" y="409.90" width="23.00" height="47.10" fill="#a01452"/>
<rect x="146.00" y="409.90" width="4.00" height="47.10" fill="#b00a52"/>
<rect x="150.00" y="409.90" width="17.30" height="47.10" fill="#ff0a5a"/>
<rect x="157.00" y="429.90" width="2.00" height="22.10" fill="#ff6a20"/>
<rect x="157.00" y="448.00" width="2.00" height="9.00" fill="#bb52d2"/>
<rect x="167.30" y="409.90" width="15.20" height="47.10" fill="#f8acac"/>
<rect x="176.00" y="409.90" width="6.50" height="47.10" fill="#eab2a6"/>
<rect x="182.50" y="409.90" width="25.00" height="47.10" fill="#286619"/>
<rect x="207.50" y="409.90" width="39.50" height="47.10" fill="#ff961e"/>
<rect x="247.00" y="409.90" width="22.00" height="47.10" fill="#8c6e32"/>
<rect x="269.00" y="409.90" width="25.00" height="47.10" fill="#d87a22"/>
<rect x="294.00" y="409.90" width="24.60" height="47.10" fill="#d87a22"/>
<rect x="318.60" y="409.90" width="138.90" height="47.10" fill="#ff6010"/>
<rect x="395.50" y="409.90" width="3.50" height="47.10" fill="#d86a18"/>
<rect x="343.50" y="452.00" width="15.10" height="5.00" fill="#c08030"/>
<rect x="349.00" y="453.50" width="9.00" height="3.50" fill="#8a70d0"/>
<rect x="343.50" y="409.90" width="15.10" height="5.00" fill="#c08030"/>
<rect x="399.00" y="450.00" width="2.00" height="7.00" fill="#c050c0"/>
<rect x="435.00" y="449.00" width="3.00" height="8.00" fill="#bb52d2"/>
<rect x="318.60" y="409.90" width="12.40" height="5.00" fill="#d07a28"/>
<rect x="88.50" y="208.10" width="3.50" height="48.90" fill="#96a028"/>
<rect x="88.50" y="210.00" width="3.50" height="15.00" fill="#f03a30"/>
<rect x="53.00" y="212.00" width="2.00" height="18.00" fill="#f03a30"/>
<rect x="53.00" y="240.00" width="2.00" height="10.00" fill="#bb52d2"/>
<rect x="8.00" y="210.00" width="41.00" height="10.00" fill="#3a8ae6"/>
<rect x="8.00" y="217.00" width="90.80" height="2.00" fill="#40c0a0" fill-opacity="0.6"/>
<rect x="98.80" y="217.80" width="146.20" height="1.40" fill="#60b080" fill-opacity="0.4"/>
<rect x="49.00" y="221.00" width="49.80" height="1.50" fill="#e05030" fill-opacity="0.8"/>
<rect x="167.30" y="208.10" width="15.20" height="9.90" fill="#f894a4"/>
<rect x="150.00" y="208.10" width="17.30" height="6.90" fill="#e03868"/>
<rect x="207.50" y="208.10" width="39.50" height="3.90" fill="#b0a040"/>
<rect x="207.50" y="212.00" width="39.50" height="3.00" fill="#ff5020"/>
<rect x="200.00" y="220.00" width="3.00" height="5.00" fill="#8a4a20"/>
<rect x="200.00" y="232.00" width="3.00" height="8.00" fill="#8a4a20"/>
<rect x="200.00" y="250.00" width="3.00" height="7.00" fill="#8a4a20"/>
<rect x="222.00" y="253.00" width="2.00" height="4.00" fill="#bb52d2"/>
<rect x="232.00" y="246.00" width="3.00" height="11.00" fill="#e08030"/>
<rect x="238.00" y="243.00" width="3.00" height="14.00" fill="#e08030"/>
<rect x="269.00" y="208.10" width="3.00" height="48.90" fill="#c08030"/>
<rect x="272.00" y="208.10" width="8.50" height="15.90" fill="#7a8a30"/>
<rect x="272.00" y="224.00" width="8.50" height="15.40" fill="#8c6e32"/>
<rect x="272.00" y="239.40" width="8.50" height="17.60" fill="#ff6a20"/>
<rect x="272.00" y="250.00" width="3.00" height="7.00" fill="#bb52d2"/>
<rect x="280.50" y="208.10" width="4.50" height="26.90" fill="#b06a30"/>
<rect x="280.50" y="235.00" width="4.50" height="22.00" fill="#f07020"/>
<rect x="285.00" y="208.10" width="5.00" height="36.90" fill="#8c6e32"/>
<rect x="285.00" y="245.00" width="5.00" height="12.00" fill="#c08030"/>
<rect x="290.00" y="208.10" width="4.00" height="48.90" fill="#c86a28"/>
<rect x="294.00" y="208.10" width="3.00" height="48.90" fill="#d08030"/>
<rect x="297.00" y="208.10" width="13.00" height="26.90" fill="#84803a"/>
<rect x="297.00" y="235.00" width="6.00" height="22.00" fill="#c06a28"/>
<rect x="303.00" y="235.00" width="7.00" height="22.00" fill="#f07020"/>
<rect x="310.00" y="208.10" width="4.00" height="48.90" fill="#c86a28"/>
<rect x="314.00" y="208.10" width="4.60" height="48.90" fill="#e07020"/>
<rect x="312.00" y="250.00" width="2.00" height="7.00" fill="#bb52d2"/>
<rect x="248.00" y="209.00" width="8.00" height="2.00" fill="#30a030"/>
<rect x="248.00" y="211.00" width="8.00" height="3.00" fill="#ff5020"/>
<rect x="249.00" y="240.00" width="4.00" height="17.00" fill="#d0781c"/>
<rect x="264.00" y="208.10" width="5.00" height="48.90" fill="#b06a2a"/>
<rect x="240.00" y="238.00" width="7.00" height="19.00" fill="#e07a20"/>
<rect x="242.00" y="230.00" width="2.00" height="27.00" fill="#d06a20"/>
<rect x="54.00" y="262.00" width="3.00" height="28.00" fill="#96a028"/>
<rect x="87.00" y="262.00" width="5.00" height="43.00" fill="#96a028"/>
<rect x="89.00" y="275.00" width="2.00" height="10.00" fill="#f03a30"/>
<rect x="92.00" y="270.00" width="5.00" height="15.00" fill="#40c040"/>
<rect x="229.00" y="259.10" width="18.00" height="48.90" fill="#a8323c"/>
<rect x="232.00" y="295.00" width="4.00" height="13.00" fill="#ff961e"/>
<rect x="238.00" y="285.00" width="2.00" height="23.00" fill="#ff961e"/>
<rect x="269.00" y="259.10" width="3.00" height="48.90" fill="#c08030"/>
<rect x="272.00" y="259.10" width="9.00" height="15.90" fill="#7a8a30"/>
<rect x="272.00" y="275.00" width="9.00" height="15.00" fill="#8c6e32"/>
<rect x="272.00" y="290.00" width="9.00" height="18.00" fill="#ff6a20"/>
<rect x="281.00" y="259.10" width="4.00" height="48.90" fill="#b06a30"/>
<rect x="285.00" y="259.10" width="5.00" height="30.90" fill="#8c6e32"/>
<rect x="285.00" y="290.00" width="5.00" height="18.00" fill="#f07020"/>
<rect x="290.00" y="259.10" width="4.00" height="48.90" fill="#c86a28"/>
<rect x="294.00" y="259.10" width="3.00" height="48.90" fill="#d08030"/>
<rect x="297.00" y="259.10" width="13.00" height="25.90" fill="#84803a"/>
<rect x="297.00" y="285.00" width="6.00" height="23.00" fill="#c06a28"/>
<rect x="303.00" y="285.00" width="7.00" height="23.00" fill="#f07020"/>
<rect x="310.00" y="259.10" width="4.00" height="48.90" fill="#c86a28"/>
<rect x="314.00" y="259.10" width="4.60" height="48.90" fill="#e07020"/>
<rect x="312.00" y="300.00" width="2.00" height="8.00" fill="#bb52d2"/>
<rect x="249.00" y="290.00" width="4.00" height="18.00" fill="#d0781c"/>
<rect x="263.00" y="259.10" width="5.00" height="48.90" fill="#a0602a"/>
<rect x="54.00" y="318.00" width="4.00" height="25.00" fill="#96a028"/>
<rect x="58.00" y="320.00" width="5.00" height="18.00" fill="#8a8a30"/>
<rect x="88.00" y="309.90" width="10.80" height="48.10" fill="#96a028"/>
<rect x="150.00" y="309.90" width="2.00" height="48.10" fill="#a01452"/>
<rect x="207.50" y="309.90" width="39.50" height="3.10" fill="#e08a20"/>
<rect x="269.00" y="309.90" width="25.00" height="48.10" fill="#8c6e32"/>
<rect x="269.00" y="309.90" width="3.00" height="48.10" fill="#c08030"/>
<rect x="272.00" y="309.90" width="4.00" height="18.10" fill="#9a5a30"/>
<rect x="272.00" y="328.00" width="4.00" height="24.00" fill="#ff6a20"/>
<rect x="276.00" y="309.90" width="8.00" height="36.10" fill="#a8323c"/>
<rect x="284.00" y="309.90" width="4.00" height="48.10" fill="#8a5a30"/>
<rect x="288.00" y="309.90" width="4.00" height="40.10" fill="#a83040"/>
<rect x="292.00" y="309.90" width="2.00" height="48.10" fill="#c08030"/>
<rect x="249.70" y="309.90" width="3.50" height="25.10" fill="#8a4a3a"/>
<rect x="294.00" y="309.90" width="24.60" height="48.10" fill="#8c6e32"/>
<rect x="294.00" y="309.90" width="5.00" height="48.10" fill="#a07a30"/>
<rect x="299.00" y="309.90" width="4.20" height="28.10" fill="#b02a3a"/>
<rect x="311.00" y="309.90" width="7.60" height="48.10" fill="#a84030"/>
<rect x="313.00" y="350.00" width="2.00" height="8.00" fill="#b060d0"/>
<rect x="318.60" y="309.90" width="1.40" height="48.10" fill="#e07020"/>
<rect x="320.00" y="309.90" width="7.70" height="48.10" fill="#80c8e8"/>
<rect x="327.70" y="309.90" width="4.90" height="48.10" fill="#b0b8f0"/>
<rect x="332.50" y="309.90" width="2.50" height="48.10" fill="#101840"/>
<rect x="334.60" y="309.90" width="3.30" height="48.10" fill="#80a030"/>
<rect x="337.90" y="309.90" width="6.10" height="48.10" fill="#a8b8f0"/>
<rect x="344.00" y="309.90" width="1.20" height="48.10" fill="#f060a0"/>
<rect x="320.00" y="309.90" width="24.00" height="3.10" fill="#f070d0"/>
<rect x="320.00" y="352.00" width="20.00" height="6.00" fill="#d0d0f0"/>
<rect x="334.60" y="352.00" width="3.30" height="6.00" fill="#a0b040"/>
<rect x="53.00" y="368.00" width="10.00" height="16.00" fill="#96a028"/>
<rect x="88.00" y="359.90" width="3.00" height="48.00" fill="#96a028"/>
<rect x="91.00" y="359.90" width="7.80" height="48.00" fill="#828232"/>
<rect x="150.00" y="359.90" width="3.00" height="48.00" fill="#a01452"/>
<rect x="207.50" y="359.90" width="39.50" height="3.10" fill="#e08a20"/>
<rect x="269.00" y="359.90" width="25.00" height="48.00" fill="#8c6e32"/>
<rect x="269.00" y="359.90" width="3.00" height="48.00" fill="#c08030"/>
<rect x="272.00" y="359.90" width="8.00" height="16.70" fill="#7a8030"/>
<rect x="280.00" y="359.90" width="5.00" height="48.00" fill="#b06a30"/>
<rect x="272.00" y="392.00" width="13.00" height="15.90" fill="#ff6a20"/>
<rect x="290.00" y="359.90" width="4.00" height="48.00" fill="#c86a28"/>
<rect x="294.00" y="359.90" width="24.60" height="48.00" fill="#8c6e32"/>
<rect x="294.00" y="359.90" width="4.00" height="48.00" fill="#c08030"/>
<rect x="298.00" y="359.90" width="5.00" height="10.10" fill="#a83a38"/>
<rect x="311.00" y="359.90" width="7.60" height="48.00" fill="#a83a30"/>
<rect x="303.00" y="390.00" width="8.00" height="17.90" fill="#e07a28"/>
<rect x="249.00" y="392.00" width="4.00" height="15.90" fill="#d08030"/>
<rect x="53.00" y="418.00" width="10.00" height="16.00" fill="#96a028"/>
<rect x="88.00" y="409.90" width="3.00" height="47.10" fill="#96a028"/>
<rect x="91.00" y="409.90" width="7.80" height="47.10" fill="#828232"/>
<rect x="150.00" y="409.90" width="3.00" height="47.10" fill="#a01452"/>
<rect x="207.50" y="409.90" width="39.50" height="6.10" fill="#eaa030"/>
<rect x="230.00" y="409.90" width="2.00" height="47.10" fill="#f08a28"/>
<rect x="236.00" y="409.90" width="2.00" height="47.10" fill="#f08a28"/>
<rect x="240.00" y="409.90" width="2.00" height="47.10" fill="#e88030"/>
<rect x="243.50" y="409.90" width="2.00" height="47.10" fill="#f08a28"/>
<rect x="228.00" y="440.00" width="19.00" height="17.00" fill="#d87a30"/>
<rect x="229.00" y="436.00" width="3.00" height="4.00" fill="#d87a30"/>
<rect x="236.00" y="434.00" width="4.00" height="6.00" fill="#d87a30"/>
<rect x="241.00" y="438.00" width="3.00" height="2.00" fill="#d87a30"/>
<rect x="207.50" y="455.30" width="39.50" height="1.70" fill="#b0b040"/>
<rect x="249.00" y="432.00" width="7.00" height="25.00" fill="#b06a30"/>
<rect x="269.00" y="409.90" width="3.00" height="47.10" fill="#7a9a30"/>
<rect x="272.00" y="409.90" width="4.00" height="47.10" fill="#3a9ab0"/>
<rect x="276.00" y="409.90" width="4.00" height="47.10" fill="#7a60d0"/>
<rect x="280.00" y="409.90" width="7.00" height="47.10" fill="#3a90d8"/>
<rect x="287.00" y="409.90" width="3.00" height="47.10" fill="#5aa030"/>
<rect x="290.00" y="409.90" width="4.00" height="47.10" fill="#7a80e0"/>
<rect x="269.00" y="409.90" width="25.00" height="5.10" fill="#8c6e32"/>
<rect x="276.00" y="445.00" width="14.00" height="12.00" fill="#e07a30"/>
<rect x="294.00" y="409.90" width="24.60" height="47.10" fill="#e07020"/>
<rect x="296.00" y="409.90" width="7.00" height="22.10" fill="#8c6e32"/>
<rect x="303.00" y="409.90" width="6.00" height="47.10" fill="#c06a28"/>
<rect x="309.00" y="409.90" width="9.60" height="30.10" fill="#8c6e32"/>
<rect x="318.60" y="409.90" width="1.80" height="47.10" fill="#e87020"/>
<rect x="320.40" y="409.90" width="12.10" height="47.10" fill="#a83040"/>
<rect x="320.40" y="409.90" width="11.80" height="6.10" fill="#b05a38"/>
<rect x="320.40" y="440.00" width="1.60" height="17.00" fill="#e87020"/>
<rect x="334.70" y="409.90" width="2.90" height="47.10" fill="#e86a28"/>
<rect x="337.60" y="416.00" width="6.40" height="32.00" fill="#b03038"/>
<rect x="337.60" y="432.00" width="2.40" height="25.00" fill="#e86a28"/>
<rect x="344.00" y="409.90" width="1.00" height="47.10" fill="#e04050"/>
<rect x="334.70" y="409.90" width="9.30" height="6.10" fill="#c87a30"/>
<rect x="413.00" y="409.90" width="3.00" height="47.10" fill="#f08080"/>
<rect x="8.00" y="455.80" width="90.80" height="1.20" fill="#7a70e0"/>
<rect x="33.00" y="7" width="1" height="450" fill="#200000" fill-opacity="0.38"/>
<rect x="48.20" y="7" width="1" height="450" fill="#200000" fill-opacity="0.38"/>
<rect x="73.30" y="7" width="1" height="450" fill="#200000" fill-opacity="0.38"/>
<rect x="98.00" y="7" width="1" height="450" fill="#200000" fill-opacity="0.38"/>
<rect x="122.90" y="7" width="1" height="450" fill="#200000" fill-opacity="0.38"/>
<rect x="148.30" y="7" width="1" height="450" fill="#200000" fill-opacity="0.38"/>
<rect x="165.80" y="7" width="1" height="450" fill="#200000" fill-opacity="0.38"/>
<rect x="181.00" y="7" width="1" height="450" fill="#200000" fill-opacity="0.38"/>
<rect x="206.10" y="7" width="1" height="450" fill="#200000" fill-opacity="0.38"/>
<rect x="225.80" y="7" width="1" height="450" fill="#200000" fill-opacity="0.38"/>
<rect x="245.70" y="7" width="1" height="450" fill="#200000" fill-opacity="0.38"/>
<rect x="268.30" y="7" width="1" height="450" fill="#200000" fill-opacity="0.38"/>
<rect x="293.00" y="7" width="1" height="450" fill="#200000" fill-opacity="0.38"/>
<rect x="318.10" y="7" width="1" height="450" fill="#200000" fill-opacity="0.38"/>
<rect x="343.10" y="7" width="1" height="450" fill="#200000" fill-opacity="0.38"/>
<rect x="358.30" y="7" width="1" height="450" fill="#200000" fill-opacity="0.38"/>
<rect x="383.40" y="7" width="1" height="450" fill="#200000" fill-opacity="0.38"/>
<rect x="408.40" y="7" width="1" height="450" fill="#200000" fill-opacity="0.38"/>
<rect x="433.30" y="7" width="1" height="450" fill="#200000" fill-opacity="0.38"/>
<rect x="332" y="57" width="2.6" height="400" fill="#50082a"/>
<rect x="388.5" y="57.00" width="2" height="5" fill="#70102a"/>
<rect x="388.5" y="107.60" width="2" height="5" fill="#70102a"/>
<rect x="388.5" y="158.00" width="2" height="5" fill="#70102a"/>
<rect x="388.5" y="208.10" width="2" height="5" fill="#70102a"/>
<rect x="388.5" y="259.10" width="2" height="5" fill="#70102a"/>
<rect x="388.5" y="309.90" width="2" height="5" fill="#70102a"/>
<rect x="388.5" y="359.90" width="2" height="5" fill="#70102a"/>
<rect x="388.5" y="409.90" width="2" height="5" fill="#70102a"/>
<rect x="400" y="107.60" width="2" height="6" fill="#70102a"/>
<rect x="400" y="409.90" width="1.6" height="5" fill="#70102a"/>
<rect x="8" y="55.00" width="450" height="2" fill="#0a1410"/>
<rect x="8" y="105.60" width="450" height="2" fill="#0a1410"/>
<rect x="8" y="156.20" width="450" height="1.8" fill="#0a1410"/>
<rect x="8" y="206.40" width="450" height="1.7" fill="#0a1410"/>
<rect x="8" y="257.00" width="450" height="2.1" fill="#0a1410"/>
<rect x="8" y="308.00" width="450" height="1.9" fill="#0a1410"/>
<rect x="8" y="358.00" width="450" height="1.9" fill="#0a1410"/>
<rect x="8" y="407.90" width="450" height="2" fill="#0a1410"/>
<rect x="0" y="111" width="100" height="1" fill="#30d0f0" fill-opacity="0.35"/>
<rect x="0" y="120.5" width="100" height="1" fill="#30d0f0" fill-opacity="0.35"/>
<rect x="0" y="218" width="8" height="1.2" fill="#30d0f0" fill-opacity="0.7"/>
<rect x="0" y="221" width="4" height="1" fill="#f080c0" fill-opacity="0.6"/>
<rect x="8" y="259" width="1.5" height="198" fill="#1a6a30" fill-opacity="0.8"/>
</g>
<g shape-rendering="auto">
<text x="468.3" y="45.2" class="k" textLength="27.4" lengthAdjust="spacingAndGlyphs">K = 2</text>
<text x="468.3" y="95.8" class="k" textLength="27.6" lengthAdjust="spacingAndGlyphs">K = 3</text>
<text x="468.3" y="146.2" class="k" textLength="27.3" lengthAdjust="spacingAndGlyphs">K = 4</text>
<text x="468.3" y="195.8" class="k" textLength="27.4" lengthAdjust="spacingAndGlyphs">K = 5</text>
<text x="468.3" y="248.8" class="k" textLength="34" lengthAdjust="spacingAndGlyphs">K = 10</text>
<text x="468.9" y="298.2" class="k" textLength="34.4" lengthAdjust="spacingAndGlyphs">K = 11</text>
<text x="470.2" y="347.3" class="k" textLength="34" lengthAdjust="spacingAndGlyphs">K = 15</text>
<text x="469.2" y="398.8" class="k" textLength="34.6" lengthAdjust="spacingAndGlyphs">K = 18</text>
<text x="470.2" y="451.3" class="k" textLength="34.6" lengthAdjust="spacingAndGlyphs">K = 20</text>
<text transform="translate(21.8,469.9) rotate(-90)" text-anchor="end" class="n" textLength="44.6" lengthAdjust="spacingAndGlyphs">Siamese</text>
<text transform="translate(46,470.5) rotate(-90)" text-anchor="end" class="n" textLength="44.2" lengthAdjust="spacingAndGlyphs">Oriental</text>
<text transform="translate(67.3,472.8) rotate(-90)" text-anchor="end" class="n" textLength="53.6" lengthAdjust="spacingAndGlyphs">Tonkinese</text>
<text transform="translate(89.4,472.9) rotate(-90)" text-anchor="end" class="n" textLength="47.8" lengthAdjust="spacingAndGlyphs">Burmese</text>
<text transform="translate(113.1,471.2) rotate(-90)" text-anchor="end" class="n" textLength="39.5" lengthAdjust="spacingAndGlyphs">Birman</text>
<text transform="translate(138.5,470.7) rotate(-90)" text-anchor="end" class="n" textLength="40.4" lengthAdjust="spacingAndGlyphs">Ragdoll</text>
<text transform="translate(164.1,470.7) rotate(-90)" text-anchor="end" class="n" textLength="58.0" lengthAdjust="spacingAndGlyphs">Abyssinian</text>
<text transform="translate(180.9,472.3) rotate(-90)" text-anchor="end" class="n" textLength="67.4" lengthAdjust="spacingAndGlyphs">Russian Blue</text>
<text transform="translate(201.4,470.7) rotate(-90)" text-anchor="end" class="n" textLength="37.0" lengthAdjust="spacingAndGlyphs">Bengal</text>
<text transform="translate(218.6,472.8) rotate(-90)" text-anchor="end" class="n" textLength="53.4" lengthAdjust="spacingAndGlyphs">Devon rex</text>
<text transform="translate(243.4,472.3) rotate(-90)" text-anchor="end" class="n" textLength="39.2" lengthAdjust="spacingAndGlyphs">Sphynx</text>
<text transform="translate(266.5,472.2) rotate(-90)" text-anchor="end" class="n" textLength="32.6" lengthAdjust="spacingAndGlyphs">Exotic</text>
<text transform="translate(288.9,471.8) rotate(-90)" text-anchor="end" class="n" textLength="53.2" lengthAdjust="spacingAndGlyphs">British SH</text>
<text transform="translate(311.3,470.7) rotate(-90)" text-anchor="end" class="n" textLength="40.4" lengthAdjust="spacingAndGlyphs">Persian</text>
<text transform="translate(338,469.6) rotate(-90)" text-anchor="end" class="n" textLength="63.8" lengthAdjust="spacingAndGlyphs">Maine coon</text>
<text transform="translate(357.4,470.9) rotate(-90)" text-anchor="end" class="n" textLength="44.8" lengthAdjust="spacingAndGlyphs">Siberian</text>
<text transform="translate(377.8,471.6) rotate(-90)" text-anchor="end" class="n" textLength="74.6" lengthAdjust="spacingAndGlyphs">Norwegian FC</text>
<text transform="translate(403.4,471.6) rotate(-90)" text-anchor="end" class="n" textLength="67.4" lengthAdjust="spacingAndGlyphs">Domestic LH</text>
<text transform="translate(428.2,471.0) rotate(-90)" text-anchor="end" class="n" textLength="73.1" lengthAdjust="spacingAndGlyphs">Domestic SLH</text>
<text transform="translate(451.6,471.0) rotate(-90)" text-anchor="end" class="n" textLength="67.8" lengthAdjust="spacingAndGlyphs">Domestic SH</text>
</g>
</svg>
</body></html>
